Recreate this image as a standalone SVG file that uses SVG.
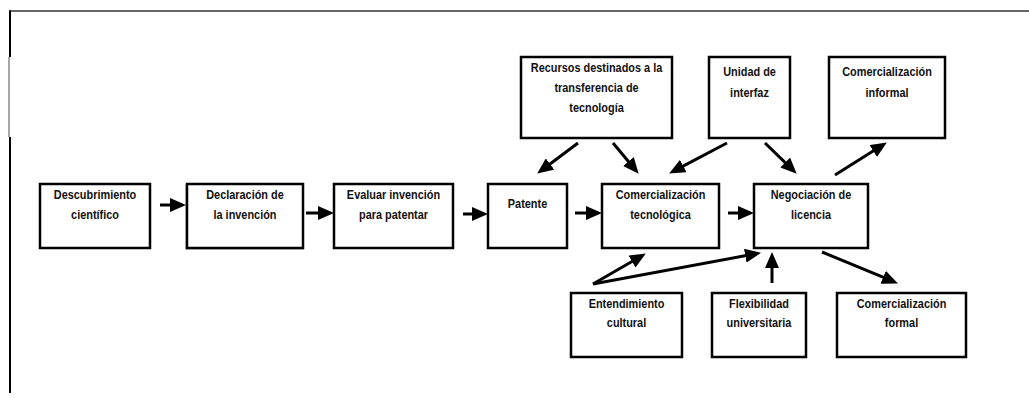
<svg xmlns="http://www.w3.org/2000/svg" width="1029" height="398" viewBox="0 0 1029 398">
<style>
.box{fill:#fff;stroke:#000;stroke-width:2.5}
.t{font-family:"Liberation Sans",Arial,sans-serif;font-weight:bold;font-size:13.3px;fill:#111;text-anchor:middle}
.c line{stroke:#000;stroke-width:3;marker-end:url(#ah)}
</style>
<defs>
<marker id="ah" markerUnits="userSpaceOnUse" markerWidth="16" markerHeight="14" refX="5" refY="7" orient="auto"><path d="M0,0 L16,7 L0,14 z" fill="#000"/></marker>
</defs>
<rect width="1029" height="398" fill="#fff"/>
<g id="frame">
<line x1="9" y1="11" x2="1029" y2="11" stroke="#333" stroke-width="1.5"/>
<line x1="10" y1="10.5" x2="10" y2="57" stroke="#000" stroke-width="2"/>
<line x1="9" y1="57" x2="9" y2="137" stroke="#888" stroke-width="1.5"/>
<line x1="10" y1="137" x2="10" y2="393" stroke="#000" stroke-width="2"/>
</g>
<g id="descubrimiento">
<rect class="box" x="40" y="184" width="110" height="64"/>
<text class="t" transform="matrix(0.82 0 0 1 95 0)"><tspan x="0" y="199">Descubrimiento</tspan><tspan x="0" y="219">científico</tspan></text>
</g>
<g id="declaracion">
<rect x="186" y="185" width="117" height="64" fill="none" stroke="#999" stroke-width="1"/>
<rect class="box" x="187" y="184" width="116" height="64"/>
<text class="t" transform="matrix(0.82 0 0 1 245 0)"><tspan x="0" y="199">Declaración de</tspan><tspan x="0" y="219">la invención</tspan></text>
</g>
<g id="evaluar">
<rect class="box" x="334" y="184" width="119" height="64"/>
<text class="t" transform="matrix(0.82 0 0 1 393.5 0)"><tspan x="0" y="199">Evaluar invención</tspan><tspan x="0" y="219">para patentar</tspan></text>
</g>
<g id="patente">
<rect class="box" x="488" y="184" width="79" height="64"/>
<text class="t" transform="matrix(0.82 0 0 1 527.5 0)"><tspan x="0" y="208">Patente</tspan></text>
</g>
<g id="comercializacion-tecnologica">
<rect class="box" x="602" y="184" width="117" height="64"/>
<text class="t" transform="matrix(0.82 0 0 1 660.5 0)"><tspan x="0" y="199">Comercialización</tspan><tspan x="0" y="219">tecnológica</tspan></text>
</g>
<g id="negociacion">
<rect class="box" x="754" y="184" width="114" height="64"/>
<text class="t" transform="matrix(0.82 0 0 1 811 0)"><tspan x="0" y="199">Negociación de</tspan><tspan x="0" y="219">licencia</tspan></text>
</g>
<g id="recursos">
<rect class="box" x="521" y="57" width="151" height="81"/>
<text class="t" transform="matrix(0.82 0 0 1 596.5 0)"><tspan x="0" y="72">Recursos destinados a la</tspan><tspan x="0" y="92">transferencia de</tspan><tspan x="0" y="112">tecnología</tspan></text>
</g>
<g id="unidad">
<rect class="box" x="709" y="57" width="81" height="81"/>
<text class="t" transform="matrix(0.82 0 0 1 749.5 0)"><tspan x="0" y="76">Unidad de</tspan><tspan x="0" y="97">interfaz</tspan></text>
</g>
<g id="informal">
<rect class="box" x="829" y="57" width="116" height="81"/>
<text class="t" transform="matrix(0.82 0 0 1 887 0)"><tspan x="0" y="76">Comercialización</tspan><tspan x="0" y="97">informal</tspan></text>
</g>
<g id="entendimiento">
<rect class="box" x="571" y="293" width="111" height="64"/>
<text class="t" transform="matrix(0.82 0 0 1 626.5 0)"><tspan x="0" y="308">Entendimiento</tspan><tspan x="0" y="327">cultural</tspan></text>
</g>
<g id="flexibilidad">
<rect class="box" x="712" y="293" width="94" height="64"/>
<text class="t" transform="matrix(0.82 0 0 1 759 0)"><tspan x="0" y="308">Flexibilidad</tspan><tspan x="0" y="327">universitaria</tspan></text>
</g>
<g id="formal">
<rect class="box" x="837" y="293" width="129" height="64"/>
<text class="t" transform="matrix(0.82 0 0 1 901.5 0)"><tspan x="0" y="308">Comercialización</tspan><tspan x="0" y="327">formal</tspan></text>
</g>
<g id="connectors" class="c">
<line x1="160" y1="205" x2="175" y2="205"/>
<line x1="306" y1="213" x2="323" y2="213"/>
<line x1="463" y1="214" x2="477" y2="214"/>
<line x1="575" y1="213" x2="591" y2="213"/>
<line x1="728" y1="213" x2="743" y2="213"/>
<line x1="578" y1="143" x2="546" y2="167"/>
<line x1="613" y1="143" x2="631.6" y2="165.3"/>
<line x1="727" y1="143" x2="678.85" y2="168.34"/>
<line x1="765" y1="143" x2="788.8" y2="166.05"/>
<line x1="835" y1="175" x2="877.5" y2="148.3"/>
<line x1="593" y1="284" x2="636.3" y2="259"/>
<line x1="593" y1="284" x2="750.2" y2="254.8"/>
<line x1="772" y1="283" x2="772" y2="263"/>
<line x1="822" y1="252" x2="887.8" y2="279.2"/>
</g>
</svg>
